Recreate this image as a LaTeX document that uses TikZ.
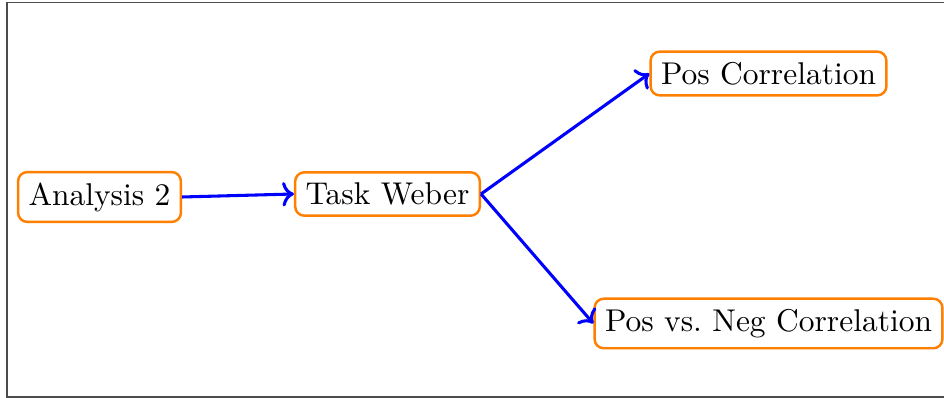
\documentclass[tikz,border=0pt]{standalone}
\usetikzlibrary{arrows.meta}
\begin{document}
\begin{tikzpicture}[
  x=0.3257pt, y=-0.3257pt,
  box/.style={draw=orange, line width=0.8pt, rounded corners=3pt, fill=white,
              inner sep=3.4pt, font=\fontsize{10.25}{12.3}\selectfont},
  link/.style={->, draw=blue, line width=1pt}
]
\useasboundingbox (0,0) rectangle (944,398);
% outer frame (right side runs past the page edge)
\draw[black!70, line width=0.45pt] (960,2.5) -- (7,2.5) -- (7,397) -- (960,397);

\node[box] (an)  at (99.5,197)  {Analysis 2};
\node[box] (tw)  at (387.5,194) {Task Weber};
\node[box] (pos) at (768.5,73.5) {Pos Correlation};
\node[box] (pn)  at (768.5,323.5) {Pos vs.\ Neg Correlation};

\draw[link] (an.east) -- (tw.west);
\draw[link] (tw.east) -- (pos.west);
\draw[link] (tw.east) -- (pn.west);
\end{tikzpicture}
\end{document}
